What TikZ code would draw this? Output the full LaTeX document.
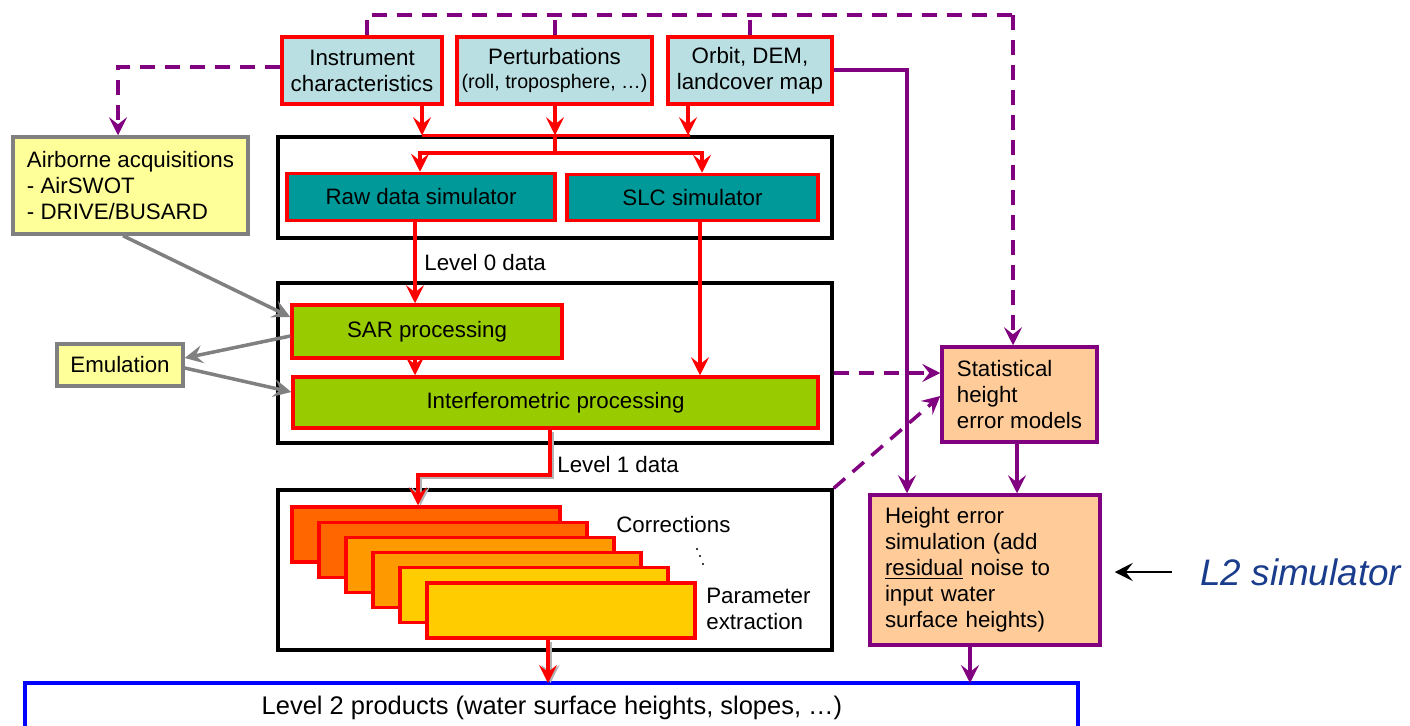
\documentclass[tikz,border=0pt]{standalone}
\usepackage{fontspec}
\setmainfont{Liberation Sans}
\usetikzlibrary{arrows.meta,calc}
\definecolor{lblue}{HTML}{B9DFE2}
\definecolor{teal2}{HTML}{009999}
\definecolor{lgreen}{HTML}{99CC00}
\definecolor{lyellow}{HTML}{FFFF99}
\definecolor{peach}{HTML}{FFCC99}
\definecolor{purp}{HTML}{800080}
\definecolor{org1}{HTML}{FF6600}
\definecolor{org2}{HTML}{FF9900}
\definecolor{org3}{HTML}{FFCC00}
\definecolor{navy2}{HTML}{1A3C8C}
\definecolor{gry}{HTML}{808080}
\tikzset{
  every node/.style={font=\fontsize{12.7pt}{14.8pt}\selectfont, inner sep=0pt},
  redbox/.style={draw=red, line width=2pt, align=center},
  blackbox/.style={draw=black, line width=2pt},
  graybox/.style={draw=gry, line width=2pt, fill=lyellow},
  purpbox/.style={draw=purp, line width=2pt, fill=peach, align=left},
  tip/.style={-{Stealth[length=0.36cm,width=0.36cm,inset=0.14cm]}},
  rline/.style={draw=red, line width=1.9pt},
  rarr/.style={rline, tip},
  gshadow/.style={draw=gry!60, line width=1.9pt, tip},
  garr/.style={draw=gry, line width=2pt, tip},
  pline/.style={draw=purp, line width=2pt},
  parr/.style={pline, tip},
  pdash/.style={pline, dash pattern=on 0.3cm off 0.2cm},
  pdasharr/.style={pdash, tip},
  karr/.style={draw=black, line width=1.5pt, tip},
}
\begin{document}
\begin{tikzpicture}[x=0.02cm, y=-0.02cm]
\useasboundingbox (0,0) rectangle (1410,725);

% top inputs
\node[redbox, fill=lblue, minimum width=3.2cm, minimum height=1.34cm] (inst) at (362,70.5) {Instrument\\characteristics};
\node[redbox, fill=lblue, minimum width=3.9cm, minimum height=1.34cm] (pert) at (554.5,70.5) {Perturbations\\[-1pt]{\fontsize{11.2pt}{13pt}\selectfont(roll, troposphere, …)}};
\node[redbox, fill=lblue, minimum width=3.28cm, minimum height=1.34cm] (orbit) at (750,70.5) {Orbit, DEM,\\landcover map};

% black frames
\node[blackbox, minimum width=11.08cm, minimum height=2.02cm] (bb1) at (555,187.5) {};
\node[blackbox, minimum width=11.08cm, minimum height=3.2cm] (bb2) at (555,363) {};
\node[blackbox, minimum width=11.08cm, minimum height=3.2cm] (bb3) at (555,570) {};

% simulators
\node[redbox, fill=teal2, minimum width=5.36cm, minimum height=0.94cm] (raw) at (421,197) {Raw data simulator};
\node[redbox, fill=teal2, minimum width=5.02cm, minimum height=0.92cm] (slc) at (692.5,197.5) {SLC simulator};

% processing
\node[redbox, fill=lgreen, minimum width=5.4cm, minimum height=1.06cm] (sar) at (427,331.5) {SAR processing};
\node[redbox, fill=lgreen, minimum width=10.5cm, minimum height=1.02cm] (interf) at (555.5,402.5) {Interferometric processing};

% side boxes
\node[graybox, minimum width=4.7cm, minimum height=1.94cm, align=left] (airb) at (130.5,185.5) {Airborne acquisitions\\- AirSWOT\\- DRIVE/BUSARD};
\node[graybox, minimum width=2.52cm, minimum height=0.84cm] (emul) at (120,365) {Emulation};

% stack of level-1 to level-2 steps
\foreach \i/\c in {0/org1,1/org1,2/org2,3/org2,4/org3,5/org3}{
  \node[draw=red, line width=1.8pt, fill=\c, minimum width=5.36cm, minimum height=1.1cm] (c\i) at (426+27*\i,534.5+15.2*\i) {};
}
\node[anchor=west] (corr) at (616,525) {Corrections};
\fill (697,549) circle (1.1) (700,556) circle (1.1) (703,564) circle (1.1);
\node[anchor=west, align=left] (param) at (706,609) {Parameter\\extraction};

% level 2
\draw[draw=blue, line width=2pt] (25,745) |- (1078,683) -- (1078,745);
\coordinate (lev2) at (551.5,683);
\node[font=\fontsize{14.5pt}{17pt}\selectfont] (lev2t) at (552,708) {Level 2 products (water surface heights, slopes, …)};

% statistical side
\node[purpbox, minimum width=3.1cm, minimum height=1.9cm] (stat) at (1019.5,394.5) {Statistical\\height\\error models};
\node[purpbox, minimum width=4.6cm, minimum height=3cm, text width=4.0cm, inner xsep=0.3cm] (herr) at (985,570) {Height error\\simulation (add\\\underline{residual} noise to\\input water\\surface heights)};
\node[anchor=west, font=\fontsize{21pt}{24pt}\selectfont\itshape, text=navy2] (l2) at (1200,572) {L2 simulator};

% ---- connectors ----
% inputs to simulators
\draw[rarr] (inst.south -| 422,0) -- (bb1.north -| 422,0);
\draw[rarr] (pert.south -| 555,0) -- (bb1.north -| 555,0);
\draw[rarr] (orbit.south -| 688,0) -- (bb1.north -| 688,0);
\draw[rline] (bb1.north -| 422,0) -- (bb1.north -| 690,0);
\draw[rline] (bb1.north -| 555,0) -- (555,153);
\draw[rarr] (555,153) -| (raw.north -| 420,0);
\draw[rarr] (555,153) -| (slc.north -| 702,0);

% simulators to processing
\draw[rarr] (raw.south -| 415,0) -- (sar.north -| 415,0);
\node[anchor=west] (l0) at (424,263) {Level 0 data};
\draw[rarr] (slc.south -| 700,0) -- (interf.north -| 700,0);
\draw[rarr] (sar.south -| 415,0) -- (interf.north -| 415,0);

% gray
\draw[garr] (airb.south -| 123,0) -- (sar.west |- 0,317);
\draw[garr] (sar.west |- 0,336) -- (emul.east |- 0,358);
\draw[garr] (emul.east |- 0,368) -- (interf.west |- 0,392);

% level 1
\draw[gshadow] ($(interf.south -| 550,0)+(2.5,2.5)$) -- (552.5,477.5) -| ($(c0.north -| 418,0)+(2.5,0)$);
\draw[rarr] (interf.south -| 550,0) -- (550,475) -| (c0.north -| 418,0);
\node[anchor=west] (l1) at (557,465) {Level 1 data};

% to level 2
\draw[gshadow] ($(c5.south -| 548,0)+(2.5,2)$) -- ($(lev2 -| 548,0)+(2.5,0)$);
\draw[rarr] (c5.south -| 548,0) -- (lev2 -| 548,0);

% purple dashed
\draw[pdash] (inst.north -| 367,0) -- (367,15) -- (1013,15);
\draw[pdasharr] (1013,15) -- (stat.north -| 1013,0);
\draw[pdash] (pert.north -| 555,0) -- (555,15);
\draw[pdash] (orbit.north -| 750,0) -- (750,15);
\draw[pdasharr] (inst.west |- 0,67) -- (118,67) -- (airb.north -| 118,0);
\draw[pdasharr] (bb2.east |- 0,373) -- (stat.west |- 0,373);
\draw[pdasharr] (bb3.north east) -- (stat.west |- 0,396);

% purple solid
\draw[parr] (orbit.east |- 0,70) -- (907,70) -- (herr.north -| 907,0);
\draw[parr] (stat.south -| 1017,0) -- (herr.north -| 1017,0);
\draw[parr] (herr.south -| 970,0) -- (lev2 -| 970,0);

% L2 simulator pointer
\draw[karr] ($(l2.west)+(-28,0)$) -- ($(herr.east |- l2.west)+(13,0)$);
\end{tikzpicture}
\end{document}
